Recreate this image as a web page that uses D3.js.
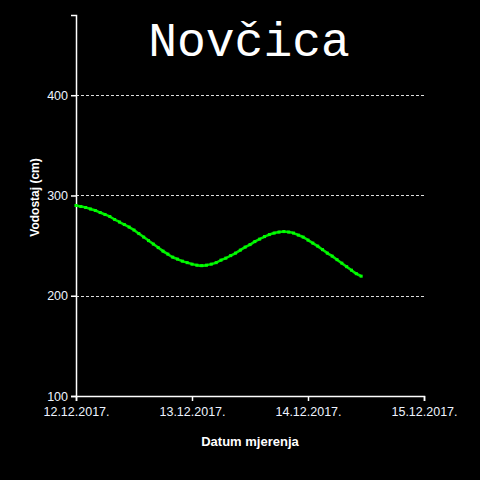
<!DOCTYPE html>
<html>
<head>
<meta charset="utf-8">
<script src="https://cdn.jsdelivr.net/npm/d3@7"></script>
<style>
  html, body { margin: 0; padding: 0; background: #000; }
  svg { display: block; }
</style>
</head>
<body>
<div id="chart"></div>
<script>
const w = 480;
const h = 480;
const plotLeft = 76, plotRight = 424, plotTop = 15, plotBottom = 396;

// hourly readings starting 12.12.2017. 00:00
const startDate = new Date(2017, 11, 12);
const hours = d3.range(0, 60);
const levels = [
  290, 289, 288, 286.5, 285, 283, 281, 279, 276, 273.5,
  271, 268.5, 265.5, 262, 258.5, 255, 251.5, 248, 244.5, 241.5,
  238.5, 236.5, 234.5, 233, 231.5, 230.5, 230, 230.5, 231.5, 233,
  235.5, 237.5, 240, 242.5, 245.5, 248.5, 251, 254, 256.5, 259,
  261, 262.5, 263.5, 264, 263.5, 262.5, 260.5, 258.5, 255.5, 252.5,
  249.5, 246, 242.5, 239.5, 236, 232.5, 229, 225.5, 222, 219.5
];
const yTicks = [100, 200, 300, 400];
const gridValues = [200, 300, 400];
const xTickDates = [
  new Date(2017, 11, 12), new Date(2017, 11, 13),
  new Date(2017, 11, 14), new Date(2017, 11, 15)
];

const data = hours.map((hr, i) => ({
  t: d3.timeHour.offset(startDate, hr),
  v: levels[i]
}));

const xScale = d3.scaleTime()
  .domain([xTickDates[0], xTickDates[3]])
  .range([plotLeft, plotRight]);

const yScale = d3.scaleLinear()
  .domain([100, 480])
  .range([plotBottom, plotTop]);

const svg = d3.select("#chart")
  .append("svg")
  .attr("width", w)
  .attr("height", h)
  .style("background", "#000");

// title
svg.append("text")
  .attr("x", (plotLeft + plotRight) / 2 - 1)
  .attr("y", 56)
  .attr("text-anchor", "middle")
  .attr("fill", "#fff")
  .style("font-family", "'Liberation Mono', 'Courier New', monospace")
  .style("font-size", "48px")
  .text("Novčica");

// grid
svg.append("g")
  .selectAll("line")
  .data(gridValues)
  .enter()
  .append("line")
  .attr("x1", plotLeft)
  .attr("x2", plotRight)
  .attr("y1", d => Math.round(yScale(d)) + 0.5)
  .attr("y2", d => Math.round(yScale(d)) + 0.5)
  .attr("stroke", "#ddd")
  .attr("stroke-width", 1)
  .attr("stroke-dasharray", "3,2");

// axes
const xAxis = d3.axisBottom(xScale)
  .tickValues(xTickDates)
  .tickFormat(d3.timeFormat("%d.%m.%Y."))
  .tickSizeOuter(0)
  .tickSize(5);

const gx = svg.append("g")
  .attr("transform", "translate(0," + plotBottom + ")")
  .call(xAxis);

const yAxis = d3.axisLeft(yScale)
  .tickValues(yTicks)
  .tickSizeOuter(0)
  .tickSize(5);

const gy = svg.append("g")
  .attr("transform", "translate(" + plotLeft + ",0)")
  .call(yAxis);

[gx, gy].forEach(g => {
  g.select(".domain").attr("stroke", "#fff").attr("stroke-width", 1.5);
  g.selectAll(".tick line").attr("stroke", "#fff").attr("stroke-width", 1.5);
  g.selectAll(".tick text")
    .attr("fill", "#eef4ff")
    .style("font-family", "'Liberation Sans', Arial, sans-serif")
    .style("font-size", "12.5px");
});
gx.selectAll(".tick text").attr("dy", "0.95em");

// axis titles
svg.append("text")
  .attr("x", (plotLeft + plotRight) / 2)
  .attr("y", 446)
  .attr("text-anchor", "middle")
  .attr("fill", "#fff")
  .style("font-family", "'Liberation Sans', Arial, sans-serif")
  .style("font-weight", "bold")
  .style("font-size", "13px")
  .text("Datum mjerenja");

svg.append("text")
  .attr("transform", "translate(39," + ((plotTop + plotBottom) / 2 - 8) + ") rotate(-90)")
  .attr("text-anchor", "middle")
  .attr("fill", "#fff")
  .style("font-family", "'Liberation Sans', Arial, sans-serif")
  .style("font-weight", "bold")
  .style("font-size", "12px")
  .text("Vodostaj (cm)");

// series
const line = d3.line()
  .x(d => xScale(d.t))
  .y(d => yScale(d.v))
  .curve(d3.curveMonotoneX);

svg.append("path")
  .datum(data)
  .attr("fill", "none")
  .attr("stroke", "#00e600")
  .attr("stroke-width", 2.5)
  .attr("d", line);

svg.append("g")
  .selectAll("rect")
  .data(data)
  .enter()
  .append("rect")
  .attr("x", d => xScale(d.t) - 1.5)
  .attr("y", d => yScale(d.v) - 1.5)
  .attr("width", 3)
  .attr("height", 3)
  .attr("fill", "#00ff00");
</script>
</body>
</html>
